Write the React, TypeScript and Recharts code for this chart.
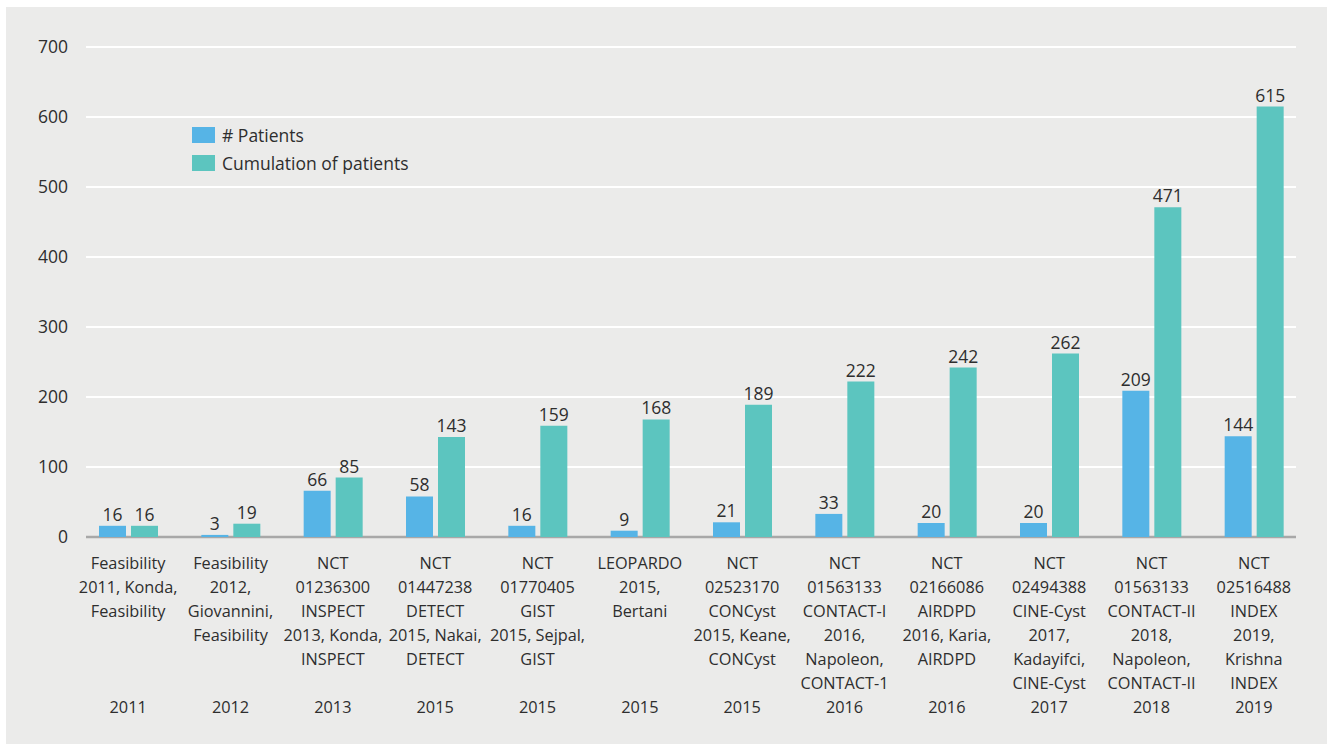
import React from "react";
import { BarChart, Bar, XAxis, YAxis, CartesianGrid, LabelList } from "recharts";

const studyLabels: string[][] = [
  ["Feasibility", "2011, Konda,", "Feasibility"],
  ["Feasibility", "2012,", "Giovannini,", "Feasibility"],
  ["NCT", "01236300", "INSPECT", "2013, Konda,", "INSPECT"],
  ["NCT", "01447238", "DETECT", "2015, Nakai,", "DETECT"],
  ["NCT", "01770405", "GIST", "2015, Sejpal,", "GIST"],
  ["LEOPARDO", "2015,", "Bertani"],
  ["NCT", "02523170", "CONCyst", "2015, Keane,", "CONCyst"],
  ["NCT", "01563133", "CONTACT-I", "2016,", "Napoleon,", "CONTACT-1"],
  ["NCT", "02166086", "AIRDPD", "2016, Karia,", "AIRDPD"],
  ["NCT", "02494388", "CINE-Cyst", "2017,", "Kadayifci,", "CINE-Cyst"],
  ["NCT", "01563133", "CONTACT-II", "2018,", "Napoleon,", "CONTACT-II"],
  ["NCT", "02516488", "INDEX", "2019,", "Krishna", "INDEX"],
];
const years: string[] = ["2011", "2012", "2013", "2015", "2015", "2015", "2015", "2016", "2016", "2017", "2018", "2019"];
const patients: number[] = [16, 3, 66, 58, 16, 9, 21, 33, 20, 20, 209, 144];
const cumulative: number[] = [16, 19, 85, 143, 159, 168, 189, 222, 242, 262, 471, 615];
const yTicks: number[] = [0, 100, 200, 300, 400, 500, 600, 700];
const seriesNames: string[] = ["# Patients", "Cumulation of patients"];

const data = studyLabels.map((lines, i) => ({
  name: lines.join(" ") + " " + i,
  patients: patients[i],
  cumulative: cumulative[i],
}));

const FONT = "'Open Sans', 'Noto Sans', sans-serif";
const TEXT = "#2e2e2e";
const BLUE = "#56b4e6";
const TEAL = "#5cc5bf";
const FS = 17.5;
const FSX = 16.3;

const XTick = (props: any) => {
  const { x, y, index } = props;
  const lines = studyLabels[index] || [];
  const year = years[index] || "";
  return (
    <g>
      {lines.map((l, i) => (
        <text key={i} x={x} y={y + 18 + i * 24} textAnchor="middle" dominantBaseline="central"
          fontFamily={FONT} fontSize={FSX} fill={TEXT}>{l}</text>
      ))}
      <text x={x} y={y + 18 + 6 * 24} textAnchor="middle" dominantBaseline="central"
        fontFamily={FONT} fontSize={FSX} fill={TEXT}>{year}</text>
    </g>
  );
};

const gridLine = (props: any) => {
  const { x1, x2, y1, y2, key } = props;
  const isBase = y1 > 528;
  return (
    <line key={key} x1={x1 + 9} x2={x2 - 9} y1={y1} y2={y2}
      stroke={isBase ? "#a8a8a8" : "#ffffff"} strokeWidth={isBase ? 2.5 : 2} />
  );
};

export default function App() {
  const colors = [BLUE, TEAL];
  return (
    <div style={{ position: "absolute", left: 0, top: 0, width: 1327, height: 744, background: "#ffffff" }}>
      <div style={{ position: "absolute", left: 6, top: 7, width: 1321, height: 737, background: "#ebebea" }}>
        <BarChart width={1321} height={737} data={data}
          margin={{ top: 40, right: 22, left: 0, bottom: 0 }} barSize={27} barGap={5}>
          <CartesianGrid vertical={false} horizontal={gridLine} />
          <XAxis dataKey="name" height={207} axisLine={false} tickLine={false} interval={0} tick={<XTick />} />
          <YAxis width={71} domain={[0, 700]} ticks={yTicks} axisLine={false} tickLine={false}
            tickMargin={3} tick={{ fontFamily: FONT, fontSize: FS, fill: TEXT }} />
          <Bar dataKey="patients" name={seriesNames[0]} fill={BLUE} isAnimationActive={false}>
            <LabelList dataKey="patients" position="top" offset={5}
              style={{ fontFamily: FONT, fontSize: FS, fill: TEXT }} />
          </Bar>
          <Bar dataKey="cumulative" name={seriesNames[1]} fill={TEAL} isAnimationActive={false}>
            <LabelList dataKey="cumulative" position="top" offset={5}
              style={{ fontFamily: FONT, fontSize: FS, fill: TEXT }} />
          </Bar>
        </BarChart>
        <div style={{ position: "absolute", left: 186, top: 114, fontFamily: FONT, fontSize: FS, color: TEXT }}>
          {seriesNames.map((t, i) => (
            <div key={t} style={{ display: "flex", alignItems: "center", height: 28 }}>
              <span style={{ display: "inline-block", width: 23, height: 16, background: colors[i], marginRight: 7 }} />
              <span>{t}</span>
            </div>
          ))}
        </div>
      </div>
    </div>
  );
}
